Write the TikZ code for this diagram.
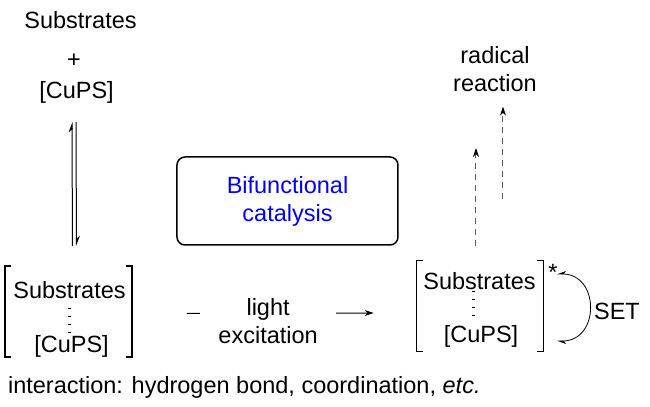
\documentclass[tikz,border=0pt]{standalone}
\usepackage{fontspec}
\setmainfont{Liberation Sans}
\usetikzlibrary{arrows.meta,positioning}

\begin{document}
\begin{tikzpicture}[x=0.5pt, y=-0.5pt,
    every node/.style={font=\fontsize{11.75}{14}\selectfont, align=center},
    cplx/.style={minimum width=63pt, minimum height=45pt, inner sep=0pt},
    brk/.style={line width=0.75pt},
    hbond/.style={line width=1.6pt, dash pattern=on 0.6pt off 3.4pt},
    eqv/.style={line width=0.5pt, -{Stealth[harpoon, length=4.5pt, width=3.5pt]}},
    radarr/.style={line width=0.5pt, gray!70!black, dash pattern=on 3pt off 2.5pt, -{Stealth[length=4.5pt, width=3pt, black]}}]
\useasboundingbox (0,0) rectangle (650,407);

% free substrates + catalyst
\node (sub1) at (80.5,20) {Substrates};
\node (plus) at (74,61) {+};
\node (cups1) at (76.5,92) {[CuPS]};

% ground state complex
\node (grp1) [cplx] at (68.5,311.5) {};
\node (sub2) at (69.5,290) {Substrates};
\node (cups2) at (71.5,346) {[CuPS]};
\draw[brk] ([xshift=3pt]grp1.north west) -- (grp1.north west) -- (grp1.south west) -- ([xshift=3pt]grp1.south west);
\draw[brk] ([xshift=-3pt]grp1.north east) -- (grp1.north east) -- (grp1.south east) -- ([xshift=-3pt]grp1.south east);
\draw[hbond, shorten <=1pt, shorten >=-2pt] (sub2) -- (sub2 |- cups2.north);

% equilibrium
\draw[eqv, shorten <=10pt, shorten >=6pt] ([xshift=2pt]grp1.north) -- ([xshift=-2.25pt]cups1.south);
\draw[eqv, shorten <=6pt, shorten >=10pt] ([xshift=-0.25pt]cups1.south) -- ([xshift=4pt]grp1.north);

% box
\node (bifun) [draw, rounded corners=4pt, line width=0.75pt, text=blue, minimum width=110.5pt, minimum height=44pt] at (287.5,201) {Bifunctional\\catalysis};

% excited complex
\node (grp2) [cplx] at (480,306) {};
\node (sub3) at (479.5,281.5) {Substrates};
\node (cups3) at (481,336) {[CuPS]};
\draw[brk] ([xshift=3pt]grp2.north west) -- (grp2.north west) -- (grp2.south west) -- ([xshift=3pt]grp2.south west);
\draw[brk] ([xshift=-3pt]grp2.north east) -- (grp2.north east) -- (grp2.south east) -- ([xshift=-3pt]grp2.south east);
\draw[hbond, shorten <=-3pt] ([xshift=-3pt]sub3.south) -- ([xshift=-3pt]sub3.south |- cups3.north);
\node (star) at (553,272) {*};

% light excitation
\draw[-{Stealth[length=4.5pt, width=3pt]}, line width=0.5pt] ([shift={(55,2)}]grp1.east) -- ([shift={(-43,7)}]grp2.west)
    node (lightx) [pos=0.435, fill=white, yshift=-4pt, minimum width=68pt] {light\\excitation};

% SET
\coordinate (s1) at (557,274);
\coordinate (s2) at (557,341);
\draw[line width=0.4pt, {Stealth[harpoon, swap, length=4pt, width=3pt]}-{Stealth[harpoon, length=4pt, width=3pt]}] (s1) .. controls +(43,0) and +(43,0) .. (s2);
\node (set) at (617,311) {SET};

% radical reaction
\node (rad) at (495,69) {radical\\reaction};
\coordinate (r1) at (476,148);
\coordinate (r2) at (503,199);
\draw[radarr, shorten <=7.5pt] ([xshift=-2pt]grp2.north) -- (r1);
\draw[radarr, shorten >=4pt] (r2) -- (r2 |- rad.south);

% note
\node (note) [anchor=west] at (1,387) {interaction: hydrogen bond, coordination, \textit{etc.}};
\end{tikzpicture}
\end{document}
